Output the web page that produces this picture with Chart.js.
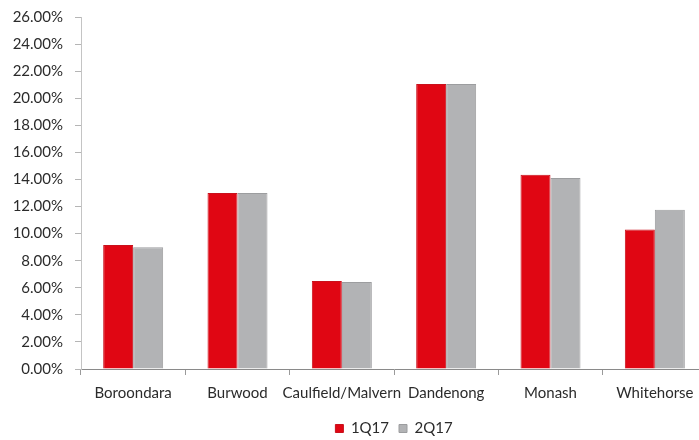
<!DOCTYPE html>
<html lang="en">
<head>
    <meta charset="UTF-8">
    <title>Vacancy by Area</title>
    <script src="https://cdn.jsdelivr.net/npm/chart.js"></script>
    <style>
        html, body {
            margin: 0;
            padding: 0;
            background: #ffffff;
            overflow: hidden;
        }

        .chart-box {
            width: 707px;
            height: 440px;
        }
    </style>
</head>
<body>
    <div class="chart-box">
        <canvas id="areaChart" width="707" height="440"></canvas>
    </div>

    <script>
        // values, in percent
        const areas = ['Boroondara', 'Burwood', 'Caulfield/Malvern', 'Dandenong', 'Monash', 'Whitehorse'];
        const q1Values = [9.15, 13.0, 6.5, 21.05, 14.35, 10.3];
        const q2Values = [9.0, 13.0, 6.42, 21.05, 14.1, 11.76];
        const seriesNames = ['1Q17', '2Q17'];
        const yMax = 26;
        const yStep = 2;

        const labelFont = { family: 'Lato', size: 15 };

        new Chart(document.getElementById('areaChart').getContext('2d'), {
            type: 'bar',
            data: {
                labels: areas,
                datasets: [
                    {
                        label: seriesNames[0],
                        data: q1Values,
                        backgroundColor: '#e00613',
                        borderColor: '#c9111c',
                        borderWidth: 1,
                    },
                    {
                        label: seriesNames[1],
                        data: q2Values,
                        backgroundColor: '#b2b3b5',
                        borderColor: '#9c9d9f',
                        borderWidth: 1,
                    },
                ],
            },
            options: {
                responsive: false,
                animation: false,
                datasets: {
                    bar: {
                        barPercentage: 1,
                        categoryPercentage: 0.575,
                    },
                },
                layout: {
                    // legend sits low, so let its empty lower part run off the canvas
                    padding: { top: 17, right: 0, bottom: -6, left: 0 },
                },
                plugins: {
                    legend: {
                        position: 'bottom',
                        fullSize: false, // centre under the plot area, not the canvas
                        labels: {
                            boxWidth: 8,
                            boxHeight: 8,
                            padding: 10,
                            color: '#2b2b2b',
                            font: labelFont,
                        },
                    },
                    tooltip: { enabled: false },
                },
                scales: {
                    x: {
                        afterFit: scale => { scale.height = 42; },
                        grid: {
                            offset: true,
                            drawOnChartArea: false,
                            tickLength: 6,
                            color: '#9a9a9a',
                        },
                        border: { color: '#8a8a8a', width: 1 },
                        ticks: {
                            color: '#2b2b2b',
                            font: labelFont,
                            maxRotation: 0,
                            autoSkip: false,
                            padding: 9,
                        },
                    },
                    y: {
                        min: 0,
                        max: yMax,
                        afterFit: scale => {
                            scale.width = 81;
                            scale.paddingTop = 0;
                            scale.paddingBottom = 0;
                        },
                        grid: {
                            drawOnChartArea: false,
                            tickLength: 6,
                            color: '#b5b5b5',
                        },
                        border: { color: '#c4c4c4', width: 1 },
                        ticks: {
                            stepSize: yStep,
                            color: '#2b2b2b',
                            font: labelFont,
                            padding: 12,
                            callback: v => v.toFixed(2) + '%',
                        },
                    },
                },
            },
        });
    </script>
</body>
</html>
